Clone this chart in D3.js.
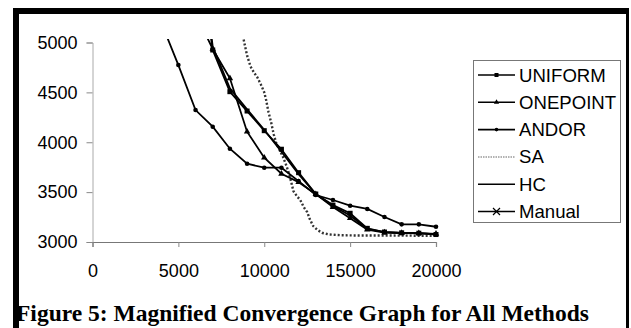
<!DOCTYPE html>
<html><head><meta charset="utf-8">
<script src="https://cdn.jsdelivr.net/npm/d3@7"></script>
<style>body{margin:0;background:#fff}svg{display:block}</style>
</head><body>
<svg id="c" width="631" height="328"></svg>
<script>
// ---- data ----
const xTicks = [0, 5000, 10000, 15000, 20000];
const yTicks = [3000, 3500, 4000, 4500, 5000];
const seriesNames = ["UNIFORM", "ONEPOINT", "ANDOR", "SA", "HC", "Manual"];
const genX = [4000, 5000, 6000, 7000, 8000, 9000, 10000, 11000, 12000, 13000, 14000, 15000, 16000, 17000, 18000, 19000, 20000];
const uniform  = [null, null, 6100, 4925, 4507, 4313, 4116, 3930, 3695, 3481, 3370, 3288, 3137, 3100, 3092, 3088, 3075];
const onepoint = [null, null, 5290, 4935, 4641, 4106, 3845, 3684, 3600, 3480, 3350, 3238, 3125, 3095, 3090, 3088, 3082];
const andor    = [5200, 4774, 4323, 4156, 3935, 3785, 3745, 3745, 3610, 3471, 3421, 3364, 3331, 3251, 3177, 3177, 3153];
const hc       = [null, null, 6300, 4960, 4540, 4330, 4125, 3905, 3680, 3480, 3360, 3265, 3132, 3098, 3090, 3086, 3078];
const manual   = [];
const saX = [8800, 8900, 9000, 9200, 9400, 9600, 9800, 10000, 10100, 10250, 10400, 10550, 10700, 10900, 11100, 11300, 11450, 11600, 11700, 11900, 12100, 12300, 12500, 12650, 12850, 13100, 13400, 13800, 14500, 15000, 16000, 17000, 18000, 19000, 20000];
const saY = [5030, 4950, 4870, 4760, 4700, 4650, 4580, 4500, 4430, 4300, 4200, 4080, 3990, 3920, 3850, 3760, 3680, 3580, 3510, 3460, 3420, 3350, 3300, 3230, 3160, 3120, 3090, 3075, 3068, 3066, 3065, 3065, 3064, 3063, 3062];
const caption = "Figure 5: Magnified Convergence Graph for All Methods";

// ---- drawing ----
const svg = d3.select("#c");
const x = d3.scaleLinear().domain([0, 20000]).range([92.5, 436]);
const y = d3.scaleLinear().domain([3000, 5000]).range([242, 42.5]);
const sans = "'Liberation Sans', Arial, sans-serif";

// frame
svg.append("rect").attr("x", 13).attr("y", 8).attr("width", 616).attr("height", 6).attr("fill", "#000");
svg.append("rect").attr("x", 13).attr("y", 8).attr("width", 6).attr("height", 320).attr("fill", "#000");
svg.append("rect").attr("x", 626).attr("y", 8).attr("width", 3).attr("height", 320).attr("fill", "#000");

// axes
const yAxis = d3.axisLeft(y).tickValues(yTicks).tickSize(6).tickPadding(9).tickFormat(d3.format("d"));
const gy = svg.append("g").attr("transform", `translate(${x(0)},0)`).call(yAxis);
gy.select(".domain").attr("stroke", "#aaa").attr("stroke-width", 1);
gy.selectAll(".tick line").attr("stroke", "#888");
gy.selectAll(".tick text").attr("font-family", sans).attr("font-size", 18).attr("fill", "#000");

const xAxis = d3.axisBottom(x).tickValues(xTicks).tickSize(5).tickPadding(17).tickFormat(d3.format("d"));
const gx = svg.append("g").attr("transform", `translate(0,${y(3000)})`).call(xAxis);
gx.select(".domain").attr("stroke", "#777").attr("stroke-width", 1.2);
gx.selectAll(".tick line").attr("stroke", "#888");
gx.selectAll(".tick text").attr("font-family", sans).attr("font-size", 18).attr("fill", "#000");

// clip
svg.append("clipPath").attr("id", "pc").append("rect")
  .attr("x", x(0)).attr("y", y(5035)).attr("width", x(20300) - x(0)).attr("height", y(2900) - y(5035));
const plot = svg.append("g").attr("clip-path", "url(#pc)");

const line = d3.line().defined(d => d[1] != null).x(d => x(d[0])).y(d => y(d[1]));
function marker(g, type, cx, cy) {
  if (type === "square") g.append("rect").attr("x", cx - 2.5).attr("y", cy - 2.5).attr("width", 5).attr("height", 5).attr("fill", "#000");
  else if (type === "triangle") g.append("path").attr("d", d3.symbol(d3.symbolTriangle, 18)()).attr("transform", `translate(${cx},${cy})`).attr("fill", "#000");
  else if (type === "circle") g.append("circle").attr("cx", cx).attr("cy", cy).attr("r", 2.3).attr("fill", "#000");
  else if (type === "x") g.append("path").attr("d", `M${cx-3.5},${cy-3.5}L${cx+3.5},${cy+3.5}M${cx-3.5},${cy+3.5}L${cx+3.5},${cy-3.5}`).attr("stroke", "#000").attr("stroke-width", 1.2);
}
const series = [
  {name: "HC", vals: hc, m: null},
  {name: "ANDOR", vals: andor, m: "circle"},
  {name: "ONEPOINT", vals: onepoint, m: "triangle"},
  {name: "UNIFORM", vals: uniform, m: "square"},
  {name: "Manual", vals: manual, m: "x"}
];
// SA dotted
plot.append("path").datum(saX.map((v, i) => [v, saY[i]])).attr("d", line)
  .attr("fill", "none").attr("stroke", "#333").attr("stroke-width", 2.4).attr("stroke-dasharray", "2,2");
series.forEach(s => {
  const pts = s.vals.map((v, i) => [genX[i], v]);
  plot.append("path").datum(pts).attr("d", line).attr("fill", "none").attr("stroke", "#000").attr("stroke-width", 1.8);
  if (s.m) pts.filter(p => p[1] != null).forEach(p => marker(plot, s.m, x(p[0]), y(p[1])));
});

// legend
const lg = svg.append("g");
lg.append("rect").attr("x", 473.5).attr("y", 60.5).attr("width", 147).attr("height", 162)
  .attr("fill", "#fff").attr("stroke", "#777").attr("stroke-width", 1);
const legM = {UNIFORM: "square", ONEPOINT: "triangle", ANDOR: "circle", SA: null, HC: null, Manual: "x"};
seriesNames.forEach((n, i) => {
  const cy = 75 + i * 27.3;
  const l = lg.append("line").attr("x1", 478).attr("x2", 515).attr("y1", cy).attr("y2", cy)
    .attr("stroke", n === "SA" ? "#999" : "#000").attr("stroke-width", n === "SA" ? 1.5 : 1.6);
  if (n === "SA") l.attr("stroke-dasharray", "1.5,1");
  if (legM[n]) {
    if (legM[n] === "x") marker(lg, "x", 496.5, cy);
    else if (legM[n] === "square") lg.append("rect").attr("x", 494.5).attr("y", cy - 2).attr("width", 4).attr("height", 4);
    else if (legM[n] === "triangle") lg.append("path").attr("d", d3.symbol(d3.symbolTriangle, 12)()).attr("transform", `translate(496.5,${cy})`);
    else lg.append("circle").attr("cx", 496.5).attr("cy", cy).attr("r", 1.8);
  }
  lg.append("text").attr("x", 519).attr("y", cy + 6.5).attr("font-family", sans).attr("font-size", 18.6).text(n);
});

// caption
svg.append("text").attr("x", 16).attr("y", 321).attr("font-family", "'Liberation Serif', 'Times New Roman', serif")
  .attr("font-weight", "bold").attr("font-size", 23.5).text(caption);
</script>
</body></html>
